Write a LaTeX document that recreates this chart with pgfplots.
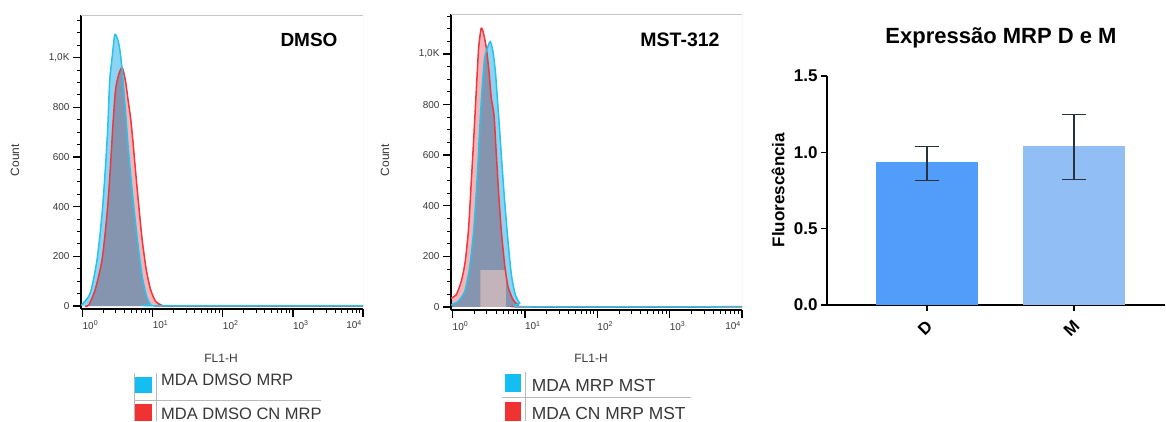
\documentclass[border=0pt]{standalone}
\usepackage{fontspec}
\setmainfont{Liberation Sans}
\usepackage{pgfplots}
\usepackage{pgfplotstable}
\pgfplotsset{compat=1.18}

\definecolor{cfill}{RGB}{140,212,242}
\definecolor{rfill}{RGB}{245,180,185}
\definecolor{cline}{RGB}{40,195,235}
\definecolor{rline}{RGB}{240,55,60}
\definecolor{gatec}{RGB}{194,180,184}
\definecolor{barD}{RGB}{82,156,250}
\definecolor{barM}{RGB}{146,190,246}
\definecolor{cbox}{RGB}{20,190,240}
\definecolor{rbox}{RGB}{240,50,50}
\definecolor{txt}{RGB}{55,55,55}
\definecolor{errc}{RGB}{40,50,60}
\definecolor{legline}{RGB}{185,185,185}

% FL1-H histograms (x = FL1-H, y = count)
\pgfplotstableread{
x y
0.955 5
1.00 8
1.30 53
1.62 188
1.91 373
2.13 560
2.30 720
2.45 907
2.65 1000
2.90 1093
3.24 1067
3.49 1013
3.77 920
4.11 787
4.49 640
4.95 507
5.53 373
6.24 240
7.11 120
8.20 40
9.35 7
11.2 1
10000 1
}\dmsoC
\pgfplotstableread{
x y
1.10 0
1.23 3
1.53 68
1.91 188
2.25 373
2.51 560
2.71 720
2.96 868
3.30 933
3.69 960
4.11 907
4.49 827
4.85 760
5.24 667
5.71 547
6.38 400
7.11 267
8.13 147
9.35 67
11.0 20
13.5 3
15.8 0
10000 0
}\dmsoR
\pgfplotstableread{
x y
0.955 8
1.19 21
1.47 60
1.72 153
1.96 298
2.18 495
2.37 693
2.55 851
2.78 983
3.03 1023
3.33 1049
3.63 1009
3.92 930
4.17 825
4.50 693
4.84 561
5.27 416
5.86 258
6.53 126
7.41 47
8.51 15
10.5 1
10000 1
}\mstC
\pgfplotstableread{
x y
0.955 35
1.12 47
1.32 100
1.50 179
1.67 311
1.82 495
1.98 680
2.13 851
2.30 1023
2.50 1102
2.72 1075
2.94 1023
3.20 930
3.44 825
3.75 759
4.04 601
4.36 443
4.74 298
5.27 166
5.86 80
6.89 28
8.07 8
10.0 0
10000 0
}\mstR

\begin{document}
\begin{tikzpicture}[x=1pt, y=1pt]
\useasboundingbox (0,0) rectangle (1166,421);

% ---- DMSO panel
\begin{axis}[scale only axis, anchor=south west,
    at={(81pt,112pt)}, width=282pt, height=294pt,
    xmode=log, xmin=0.955, xmax=10000,
    ymin=-12, ymax=1172,
    axis x line*=bottom, axis y line*=left,
    axis line style={black, line width=1.6pt},
    tick align=outside,
    xtick={1,10,100,1000,10000},
    xticklabels={10\textsuperscript{0},10\textsuperscript{1},10\textsuperscript{2},10\textsuperscript{3},\hspace*{-34pt}10\textsuperscript{4}},
    xticklabel style={xshift=8pt, font=\fontsize{10}{12}\selectfont, text=txt},
    ytick={0,200,400,600,800,1000},
    yticklabels={0,200,400,600,800,{1,0K}},
    minor ytick={50,100,...,1150},
    yticklabel style={font=\fontsize{10}{12}\selectfont, text=txt},
    major tick length=8pt, minor tick length=4pt,
    every tick/.style={black, line width=1.4pt},
    minor tick style={line width=1pt}]
\addplot[draw=none, fill=rfill, blend mode=multiply, smooth, tension=0.4] table {\dmsoR} \closedcycle;
\addplot[draw=none, fill=cfill, blend mode=multiply, smooth, tension=0.4] table {\dmsoC} \closedcycle;
\addplot[rline, line width=1.5pt, smooth, tension=0.4] table {\dmsoR};
\addplot[cline, line width=1.5pt, smooth, tension=0.4] table {\dmsoC};
\draw[gray!45, line width=0.8pt] (rel axis cs:0,1) -- (rel axis cs:1,1) -- (rel axis cs:1,0);
\end{axis}

% ---- MST-312 panel
\begin{axis}[scale only axis, anchor=south west,
    at={(451pt,111pt)}, width=291pt, height=296pt,
    xmode=log, xmin=0.955, xmax=10000,
    ymin=-12, ymax=1158,
    axis x line*=bottom, axis y line*=left,
    axis line style={black, line width=1.6pt},
    tick align=outside,
    xtick={1,10,100,1000,10000},
    xticklabels={10\textsuperscript{0},10\textsuperscript{1},10\textsuperscript{2},10\textsuperscript{3},\hspace*{-34pt}10\textsuperscript{4}},
    xticklabel style={xshift=8pt, font=\fontsize{10}{12}\selectfont, text=txt},
    ytick={0,200,400,600,800,1000},
    yticklabels={0,200,400,600,800,{1,0K}},
    minor ytick={50,100,...,1150},
    yticklabel style={font=\fontsize{10}{12}\selectfont, text=txt},
    major tick length=8pt, minor tick length=4pt,
    every tick/.style={black, line width=1.4pt},
    minor tick style={line width=1pt}]
\addplot[draw=none, fill=rfill, blend mode=multiply, smooth, tension=0.4] table {\mstR} \closedcycle;
\addplot[draw=none, fill=cfill, blend mode=multiply, smooth, tension=0.4] table {\mstC} \closedcycle;
\addplot[draw=none, fill=gatec] coordinates {(2.43,0) (2.43,146) (5.45,146) (5.45,0)} \closedcycle;
\addplot[rline, line width=1.5pt, smooth, tension=0.4] table {\mstR};
\addplot[cline, line width=1.5pt, smooth, tension=0.4] table {\mstC};
\draw[gray!45, line width=0.8pt] (rel axis cs:0,1) -- (rel axis cs:1,1) -- (rel axis cs:1,0);
\end{axis}

% ---- bar chart
\begin{axis}[scale only axis, anchor=south west, at={(827pt,116pt)},
  width=338pt, height=229pt,
  xmin=0.32, xmax=2.62, ymin=0, ymax=1.5,
  axis x line*=bottom, axis y line*=left,
  axis line style={black, line width=1.4pt},
  tick align=outside, major tick length=6pt,
  every tick/.style={black, line width=1.4pt},
  xtick={1,2}, xticklabels={D,M},
  ytick={0,0.5,1,1.5}, yticklabels={0.0,0.5,1.0,1.5},
  ticklabel style={font=\fontsize{17}{20}\selectfont\bfseries, text=black},
  xticklabel style={xshift=5pt, yshift=-10pt, rotate=45, anchor=east},
]
\addplot[ybar, bar width=0.69, bar shift=0pt, fill=barD, draw=none,
  error bars/.cd, y dir=both, y explicit,
  error bar style={errc, line width=1.3pt},
  error mark options={draw=errc, line width=1.3pt, mark size=12pt, rotate=90}]
  coordinates {(1,0.934) += (0,0.103) -= (0,0.120)};
\addplot[ybar, bar width=0.69, bar shift=0pt, fill=barM, draw=none,
  error bars/.cd, y dir=both, y explicit,
  error bar style={errc, line width=1.3pt},
  error mark options={draw=errc, line width=1.3pt, mark size=12pt, rotate=90}]
  coordinates {(2,1.043) += (0,0.207) -= (0,0.220)};
\end{axis}

% ---- text
\node[font=\fontsize{19}{22}\selectfont\bfseries] at (309,381) {DMSO};
\node[font=\fontsize{19.5}{22}\selectfont\bfseries] at (680,381) {MST-312};
\node[rotate=90, font=\fontsize{12}{14}\selectfont, text=txt] at (15,261) {Count};
\node[rotate=90, font=\fontsize{12}{14}\selectfont, text=txt] at (385,261) {Count};
\node[font=\fontsize{12}{14}\selectfont, text=txt] at (221,63) {FL1-H};
\node[font=\fontsize{12}{14}\selectfont, text=txt] at (591,63) {FL1-H};
\node[font=\fontsize{22}{26}\selectfont\bfseries] at (1001,383) {Expressão MRP D e M};
\node[rotate=90, font=\fontsize{17}{20}\selectfont\bfseries] at (778,231) {Fluorescência};

% ---- legends
\draw[legline, line width=0.9pt] (134,48) -- (134,0) (156,48) -- (156,0) (134,21) -- (321,21);
\fill[cbox] (135,28) rectangle (152,44.5);
\fill[rbox] (135,0) rectangle (152,17);
\node[anchor=base west, inner sep=0pt, font=\fontsize{16.5}{18}\selectfont, text=txt] at (161,35.3) {MDA DMSO MRP};
\node[anchor=base west, inner sep=0pt, font=\fontsize{16.5}{18}\selectfont, text=txt] at (161,1.5) {MDA DMSO CN MRP};

\draw[legline, line width=0.9pt] (525,49) -- (525,0) (502,23.3) -- (691,23.3);
\fill[cbox] (504.5,29.3) rectangle (521,47);
\fill[rbox] (504.5,0) rectangle (521,19);
\node[anchor=base west, inner sep=0pt, font=\fontsize{17.4}{20}\selectfont, text=txt] at (531.7,29.3) {MDA MRP MST};
\node[anchor=base west, inner sep=0pt, font=\fontsize{17.4}{20}\selectfont, text=txt] at (531.7,1.5) {MDA CN MRP MST};
\end{tikzpicture}
\end{document}
